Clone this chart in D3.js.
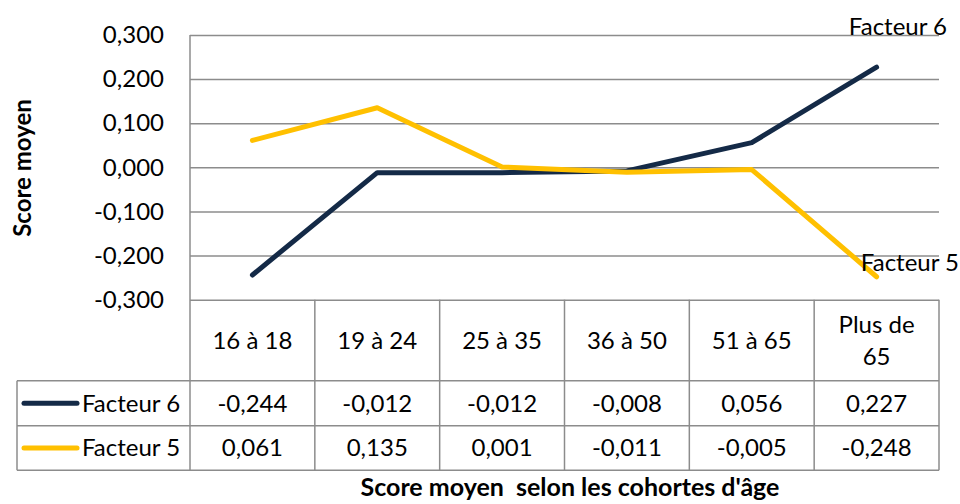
<!DOCTYPE html>
<html><head><meta charset="utf-8">
<script src="https://cdn.jsdelivr.net/npm/d3@7"></script>
<style>body{margin:0;background:#fff}svg{display:block}text{font-family:Lato,"Open Sans",sans-serif;fill:#000;white-space:pre}</style>
</head><body><svg id="c" width="960" height="504"></svg>
<script>
const categories = ["16 à 18","19 à 24","25 à 35","36 à 50","51 à 65","Plus de 65"];
const categoryLines = [["16 à 18"],["19 à 24"],["25 à 35"],["36 à 50"],["51 à 65"],["Plus de","65"]];
const facteur6 = [-0.244,-0.012,-0.012,-0.008,0.056,0.227];
const facteur5 = [0.061,0.135,0.001,-0.011,-0.005,-0.248];
const seriesNames = ["Facteur 6","Facteur 5"];
const seriesColors = ["#142a47","#ffc000"];
const yTicks = [-0.3,-0.2,-0.1,0,0.1,0.2,0.3];
const yTitle = "Score moyen";
const xTitle = "Score moyen  selon les cohortes d'âge";

const series = [facteur6, facteur5];
const svg = d3.select("#c");
const L = 190, R = 939, T = 35, B = 299.7;
const rowY = [299.7, 380.7, 425.7, 470.3];
const legendLeft = 17;
const grid = "#8c8c8c";
const FS = 24;
const fmt = v => d3.format(".3f")(v).replace("\u2212", "-").replace(".", ",");

const x = d3.scaleBand().domain(categories).range([L, R]).padding(0);
const y = d3.scaleLinear().domain([-0.3, 0.3]).range([B, T]);

// gridlines + y axis
const ya = svg.append("g").attr("transform", `translate(${L},0)`)
  .call(d3.axisLeft(y).tickValues(yTicks).tickSize(-(R - L)).tickFormat(fmt).tickPadding(26));
ya.select(".domain").remove();
ya.selectAll(".tick line").attr("stroke", grid).attr("stroke-width", 1.5);
ya.selectAll(".tick text").attr("font-size", FS).attr("font-family", "Lato").attr("fill", "#000");

// plot left border (extends through table header)
svg.append("line").attr("x1", L).attr("x2", L).attr("y1", T).attr("y2", rowY[3])
  .attr("stroke", grid).attr("stroke-width", 1.5);

// table
const tg = svg.append("g");
[1, 2, 3].forEach(r => {
  tg.append("line").attr("x1", legendLeft).attr("x2", R).attr("y1", rowY[r]).attr("y2", rowY[r])
    .attr("stroke", grid).attr("stroke-width", 1.5);
});
categories.forEach(c => {
  const xe = x(c) + x.bandwidth();
  tg.append("line").attr("x1", xe).attr("x2", xe).attr("y1", rowY[0]).attr("y2", rowY[3]).attr("stroke", grid).attr("stroke-width", 1.5);
});
tg.append("line").attr("x1", legendLeft).attr("x2", legendLeft).attr("y1", rowY[1]).attr("y2", rowY[3]).attr("stroke", grid).attr("stroke-width", 1.5);

// header
categories.forEach((c, i) => {
  const lines = categoryLines[i];
  const cy = (rowY[0] + rowY[1]) / 2;
  const lh = 32;
  lines.forEach((t, j) => {
    tg.append("text").attr("x", x(c) + x.bandwidth() / 2)
      .attr("y", cy + (j - (lines.length - 1) / 2) * lh)
      .attr("dy", "0.35em").attr("text-anchor", "middle").attr("font-size", FS).text(t);
  });
});
// data rows
series.forEach((s, k) => {
  const cy = (rowY[k + 1] + rowY[k + 2]) / 2;
  s.forEach((v, i) => {
    tg.append("text").attr("x", x(categories[i]) + x.bandwidth() / 2).attr("y", cy)
      .attr("dy", "0.35em").attr("text-anchor", "middle").attr("font-size", FS).text(fmt(v));
  });
  tg.append("line").attr("x1", 24).attr("x2", 77).attr("y1", cy).attr("y2", cy)
    .attr("stroke", seriesColors[k]).attr("stroke-width", 5).attr("stroke-linecap", "round");
  tg.append("text").attr("x", 82).attr("y", cy).attr("dy", "0.35em").attr("font-size", FS).text(seriesNames[k]);
});

// lines
const line = d3.line().x((d, i) => x(categories[i]) + x.bandwidth() / 2).y(d => y(d));
series.forEach((s, k) => {
  svg.append("path").datum(s).attr("d", line).attr("fill", "none")
    .attr("stroke", seriesColors[k]).attr("stroke-width", 5)
    .attr("stroke-linecap", "round").attr("stroke-linejoin", "round");
});

// end labels
svg.append("text").attr("x", 947).attr("y", 35).attr("text-anchor", "end").attr("font-size", FS).text(seriesNames[0]);
svg.append("text").attr("x", 959).attr("y", 271).attr("text-anchor", "end").attr("font-size", FS).text(seriesNames[1]);

// titles
svg.append("text").attr("transform", "translate(31,168) rotate(-90)").attr("text-anchor", "middle")
  .attr("font-size", FS).attr("font-weight", "bold").text(yTitle);
svg.append("text").attr("x", 570).attr("y", 496).attr("text-anchor", "middle")
  .attr("font-size", 25).attr("font-weight", "bold").text(xTitle);
</script></body></html>
